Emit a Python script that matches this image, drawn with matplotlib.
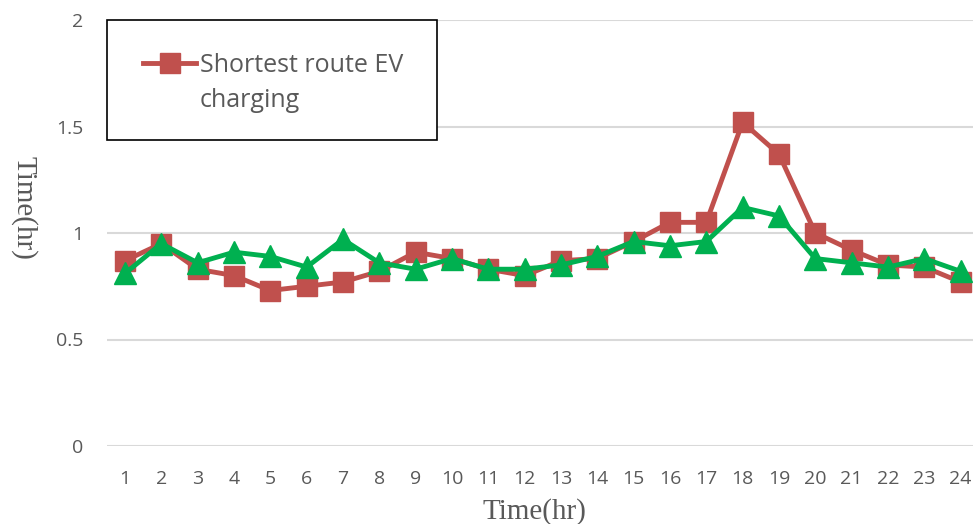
import numpy as np
import matplotlib.pyplot as plt
from matplotlib.lines import Line2D
from matplotlib.patches import Rectangle

# Datos
hours = list(range(1, 25))
shortest_route = [0.87, 0.95, 0.83, 0.80, 0.73, 0.75, 0.77, 0.82, 0.91, 0.88, 0.83, 0.80,
                  0.87, 0.88, 0.96, 1.05, 1.05, 1.52, 1.37, 1.00, 0.92, 0.85, 0.84, 0.77]
proposed = [0.81, 0.95, 0.86, 0.91, 0.89, 0.84, 0.97, 0.86, 0.83, 0.88, 0.83, 0.83,
            0.85, 0.89, 0.96, 0.94, 0.96, 1.12, 1.08, 0.88, 0.86, 0.84, 0.88, 0.82]
y_ticks = [0, 0.5, 1, 1.5, 2]
y_tick_labels = ['0', '0.5', '1', '1.5', '2']
legend_label = 'Shortest route EV\ncharging'

red = '#C0504D'
green = '#00B050'
gray = '#595959'

W, H = 973, 524
fig = plt.figure(figsize=(W / 100, H / 100), dpi=100)
ax = fig.add_axes([106.8 / W, 78 / H, 872 / W, 426 / H])

ax.plot(hours, shortest_route, color=red, lw=3.5, marker='s', ms=14.5, zorder=3)
ax.plot(hours, proposed, color=green, lw=3.5, marker='^', ms=16, zorder=4)

ax.set_xlim(0.5, 24.5)
ax.set_ylim(0, 2)
ax.set_xticks(hours)
ax.set_xticklabels([str(h) for h in hours], fontsize=14, color=gray, fontname='Open Sans')
ax.set_yticks(y_ticks)
ax.set_yticklabels(y_tick_labels, fontsize=14, color=gray, fontname='Open Sans')
ax.tick_params(axis='x', length=0, pad=17)
ax.tick_params(axis='y', length=0, pad=17)
ax.grid(axis='y', color='#D9D9D9', lw=1.5)
ax.set_axisbelow(True)
for s in ax.spines.values():
    s.set_visible(False)

# Etiquetas de ejes
fig.text(534 / W, 1 - 512 / H, 'Time(hr)', fontsize=21, family='Liberation Serif',
         color=gray, ha='center', va='center')
fig.text(24 / W, 1 - 208 / H, 'Time(hr)', fontsize=21, family='Liberation Serif',
         color=gray, ha='center', va='center', rotation=270)

# Leyenda dibujada a mano
fig.patches.append(Rectangle((107 / W, 1 - 140 / H), 330 / W, 120 / H,
                             transform=fig.transFigure, facecolor='white',
                             edgecolor='black', lw=1.2, zorder=10))
fig.lines.append(Line2D([143 / W, 196 / W], [1 - 63 / H, 1 - 63 / H],
                        transform=fig.transFigure, color=red, lw=3.5, zorder=11))
fig.lines.append(Line2D([169.5 / W], [1 - 63 / H], transform=fig.transFigure,
                        color=red, marker='s', ms=14.5, zorder=11))
fig.text(200 / W, 1 - 83 / H, legend_label, fontsize=18, fontname='Open Sans',
         color=gray, ha='left', va='center', linespacing=1.5, zorder=12)

fig.savefig('out.png', dpi=100)
